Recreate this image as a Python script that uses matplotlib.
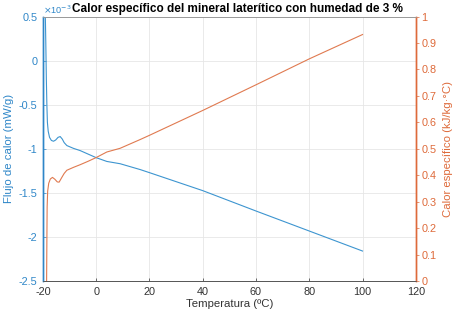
import matplotlib
matplotlib.use("Agg")
import matplotlib.pyplot as plt

plt.rcParams['font.family'] = ['Liberation Sans', 'DejaVu Sans']
plt.rcParams['axes.unicode_minus'] = False

# Heat flow (x1e-3 mW/g) vs temperature
temp_flux = [-19.1, -18.9, -18.7, -18.5, -18.3, -18.0, -17.5, -16.8, -16.0, -15.2, -14.3,
             -13.5, -12.7, -12.0, -11.0, -8.5, -6.0, -3.0, 0.0, 4.0, 9.0, 16.5, 20.0,
             40.0, 60.0, 80.0, 100.0]
flux = [0.55, 0.2, -0.2, -0.5, -0.7, -0.8, -0.87, -0.905, -0.914, -0.9, -0.87,
        -0.861, -0.89, -0.93, -0.963, -0.995, -1.02, -1.06, -1.10, -1.143, -1.169, -1.235, -1.27,
        -1.474, -1.705, -1.932, -2.159]

# Specific heat (kJ/kg·°C) vs temperature
temp_cp = [-18.6, -18.5, -18.4, -18.2, -17.8, -17.2, -16.4, -15.5, -14.6, -13.9, -13.0,
           -12.0, -11.0, -8.5, -6.0, -3.0, 0.0, 4.0, 9.0, 16.5, 20.0, 40.0, 60.0, 80.0, 100.0]
cp = [0.0, 0.15, 0.28, 0.34, 0.37, 0.386, 0.392, 0.385, 0.375, 0.374, 0.39,
      0.407, 0.419, 0.43, 0.44, 0.453, 0.467, 0.488, 0.502, 0.535, 0.551, 0.645, 0.742, 0.840, 0.932]

x_ticks = [-20, 0, 20, 40, 60, 80, 100, 120]
y_left_ticks = [-2.5, -2, -1.5, -1, -0.5, 0, 0.5]
y_left_labels = ['-2.5', '-2', '-1.5', '-1', '-0.5', '0', '0.5']
y_right_ticks = [0, 0.1, 0.2, 0.3, 0.4, 0.5, 0.6, 0.7, 0.8, 0.9, 1]
y_right_labels = ['0', '0.1', '0.2', '0.3', '0.4', '0.5', '0.6', '0.7', '0.8', '0.9', '1']

BLUE = '#2E86C8'
ORANGE = '#DE6A3A'
FS = 7.8

fig = plt.figure(figsize=(4.61, 3.12), dpi=100)
ax = fig.add_axes([0.093, 0.099, 0.809, 0.848])
ax2 = ax.twinx()

ax.plot(temp_flux, flux, color='#3D95D0', lw=0.8)
ax2.plot(temp_cp, cp, color='#E07A50', lw=0.8)

ax.set_xlim(-20, 120)
ax.set_ylim(-2.5, 0.5)
ax2.set_ylim(0, 1)
ax.set_xticks(x_ticks)
ax.set_xticklabels([str(v) for v in x_ticks], fontsize=FS, color='#333333')
ax.set_yticks(y_left_ticks)
ax.set_yticklabels(y_left_labels, fontsize=FS, color=BLUE)
ax2.set_yticks(y_right_ticks)
ax2.set_yticklabels(y_right_labels, fontsize=FS, color=ORANGE)

ax.grid(True, color='#e6e6e6', lw=0.6)
ax.set_axisbelow(True)

ax.tick_params(axis='x', direction='in', length=2, width=0.5, colors='#333333', pad=4)
ax.tick_params(axis='y', direction='in', length=2, width=0.5, colors=BLUE, pad=4)
ax2.tick_params(axis='y', direction='out', length=2, width=0.5, colors=ORANGE, pad=2)

for a in (ax, ax2):
    a.spines['top'].set_color('#999999')
    a.spines['top'].set_linewidth(0.6)
    a.spines['bottom'].set_color('#555555')
    a.spines['bottom'].set_linewidth(0.6)
    a.spines['left'].set_color(BLUE)
    a.spines['left'].set_linewidth(1.0)
    a.spines['right'].set_color(ORANGE)
    a.spines['right'].set_linewidth(1.0)

ax.set_xlabel('Temperatura (ºC)', fontsize=8.2, color='#333333', labelpad=2)
ax.set_ylabel('Flujo de calor (mW/g)', fontsize=8.2, color=BLUE, labelpad=3)
ax2.set_ylabel('Calor específico (kJ/kg·°C)', fontsize=8.2, color=ORANGE, labelpad=5)

ax.text(0.0, 1.003, r'$\times$10$^{-3}$', transform=ax.transAxes, fontsize=6.6,
        color=BLUE, ha='left', va='bottom')
ax.set_title('Calor específico del mineral laterítico con humedad de 3 %',
             fontsize=8.5, fontweight='bold', pad=3, x=0.522)

fig.savefig('out.png', dpi=100)
